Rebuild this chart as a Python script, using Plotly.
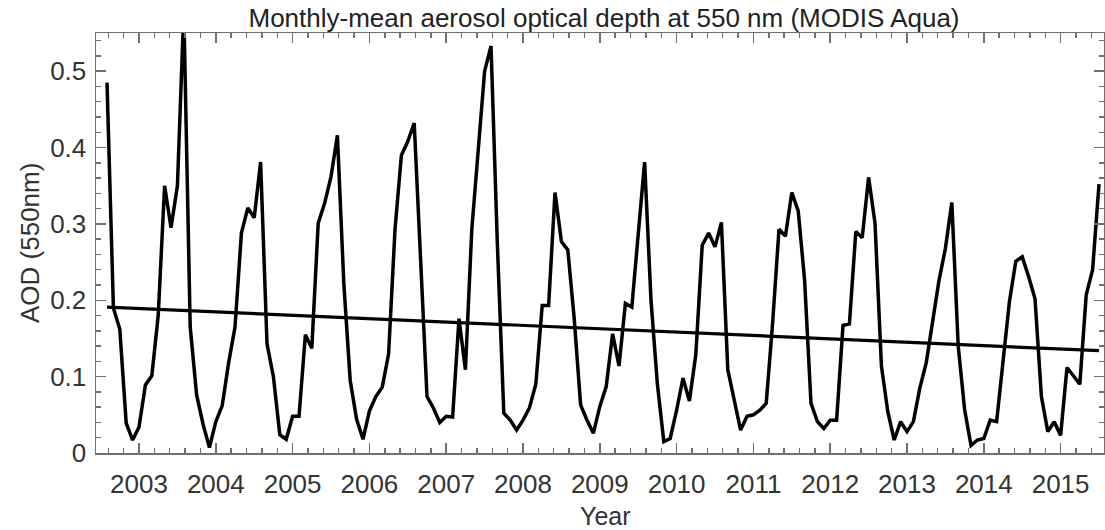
import plotly.graph_objects as go

# ---- data ----
start_year, start_month = 2002, 7   # first monthly value: July 2002

aod = [
    # 2002 Jul-Dec
    0.485, 0.190, 0.162, 0.039, 0.017, 0.034,
    # 2003
    0.089, 0.101, 0.180, 0.350, 0.295, 0.350, 0.580, 0.165, 0.076, 0.038, 0.007, 0.041,
    # 2004
    0.062, 0.118, 0.165, 0.288, 0.321, 0.308, 0.381, 0.143, 0.100, 0.024, 0.018, 0.048,
    # 2005
    0.048, 0.155, 0.137, 0.301, 0.327, 0.362, 0.416, 0.222, 0.095, 0.044, 0.018, 0.055,
    # 2006
    0.074, 0.086, 0.130, 0.293, 0.390, 0.408, 0.432, 0.245, 0.074, 0.059, 0.040, 0.048,
    # 2007
    0.047, 0.176, 0.109, 0.293, 0.395, 0.500, 0.533, 0.272, 0.052, 0.043, 0.030, 0.043,
    # 2008
    0.059, 0.090, 0.193, 0.193, 0.341, 0.277, 0.266, 0.176, 0.063, 0.043, 0.026, 0.061,
    # 2009
    0.087, 0.156, 0.114, 0.196, 0.191, 0.284, 0.381, 0.200, 0.090, 0.015, 0.019, 0.056,
    # 2010
    0.098, 0.068, 0.129, 0.272, 0.288, 0.270, 0.302, 0.109, 0.070, 0.030, 0.048, 0.050,
    # 2011
    0.056, 0.065, 0.170, 0.293, 0.284, 0.341, 0.317, 0.226, 0.065, 0.041, 0.032, 0.043,
    # 2012
    0.043, 0.167, 0.169, 0.290, 0.282, 0.361, 0.301, 0.114, 0.054, 0.017, 0.041, 0.028,
    # 2013
    0.041, 0.085, 0.118, 0.171, 0.226, 0.268, 0.328, 0.140, 0.057, 0.010, 0.017, 0.019,
    # 2014
    0.043, 0.041, 0.123, 0.198, 0.251, 0.257, 0.231, 0.202, 0.074, 0.028, 0.041, 0.023,
    # 2015 Jan-Jun
    0.112, 0.101, 0.090, 0.207, 0.240, 0.352,
]

trend_years = [2002 + 7 / 12, 2015 + 6 / 12]
trend_aod = [0.191, 0.134]

year_ticks = list(range(2003, 2016))
year_labels = [str(y) for y in year_ticks]
aod_ticks = [0, 0.1, 0.2, 0.3, 0.4, 0.5]
aod_labels = ["0", "0.1", "0.2", "0.3", "0.4", "0.5"]

title_text = "Monthly-mean aerosol optical depth at 550 nm (MODIS Aqua)"
x_title = "Year"
y_title = "AOD (550nm)"

# ---- figure ----
time = [start_year + (start_month + i) / 12 for i in range(len(aod))]

FONT = "Liberation Sans, Arial, Helvetica, sans-serif"
TEXT = "#333333"
FRAME = "#707070"

W, H = 1105, 530
# plot area in page pixels: left 96, right 1104, top 33, bottom 453
ML, MT, MR, MB = 96, 33, 1, 77
PW, PH = W - ML - MR, H - MT - MB


def px_x(px):          # page x -> paper x
    return (px - ML) / PW


def px_y(py):          # page y -> paper y
    return (H - MB - py) / PH


fig = go.Figure()
fig.add_trace(go.Scatter(x=time, y=aod, mode="lines",
                         line=dict(color="black", width=3.5),
                         showlegend=False))
fig.add_trace(go.Scatter(x=trend_years, y=trend_aod, mode="lines",
                         line=dict(color="black", width=3.2),
                         showlegend=False))

fig.update_layout(
    width=W, height=H,
    margin=dict(l=ML, r=MR, t=MT, b=MB, autoexpand=False),
    paper_bgcolor="white", plot_bgcolor="white",
    hovermode=False,
    font=dict(family=FONT, size=26, color=TEXT),
    title=dict(text=title_text, x=604 / W, xanchor="center",
               y=1 - 18 / H, yanchor="middle",
               font=dict(family=FONT, size=26, color="#222222")),
    annotations=[
        dict(text=x_title, xref="paper", yref="paper",
             x=px_x(605), y=px_y(516), xanchor="center", yanchor="middle",
             showarrow=False, font=dict(size=25, color=TEXT)),
        dict(text=y_title, xref="paper", yref="paper", textangle=-90,
             x=px_x(30), y=px_y(243), xanchor="center", yanchor="middle",
             showarrow=False, font=dict(size=26, color=TEXT)),
    ],
)

fig.update_xaxes(
    range=[2002.44, 2015.565], automargin=False,
    tickmode="array", tickvals=year_ticks, ticktext=year_labels,
    ticks="inside", ticklen=10, tickwidth=1.5, tickcolor=FRAME,
    ticklabelstandoff=7,
    minor=dict(tickmode="linear", tick0=2003, dtick=0.2, ticks="inside",
               ticklen=5, tickwidth=1.5, tickcolor=FRAME, showgrid=False),
    showline=True, linecolor=FRAME, linewidth=1.5, mirror="ticks",
    showgrid=False, zeroline=False,
)
fig.update_yaxes(
    range=[0, 0.55], automargin=False,
    tickmode="array", tickvals=aod_ticks, ticktext=aod_labels,
    ticks="inside", ticklen=10, tickwidth=1.5, tickcolor=FRAME,
    ticklabelstandoff=3,
    minor=dict(tickmode="linear", tick0=0, dtick=0.02, ticks="inside",
               ticklen=5, tickwidth=1.5, tickcolor=FRAME, showgrid=False),
    showline=True, linecolor=FRAME, linewidth=1.5, mirror="ticks",
    showgrid=False, zeroline=False,
)

# remove the browser's default 8 px body margin so the figure fills the window
fig.write_html("out.html",
               config={"displayModeBar": False, "staticPlot": True},
               post_script="document.body.style.margin='0px';"
                           "document.body.style.overflow='hidden';")
